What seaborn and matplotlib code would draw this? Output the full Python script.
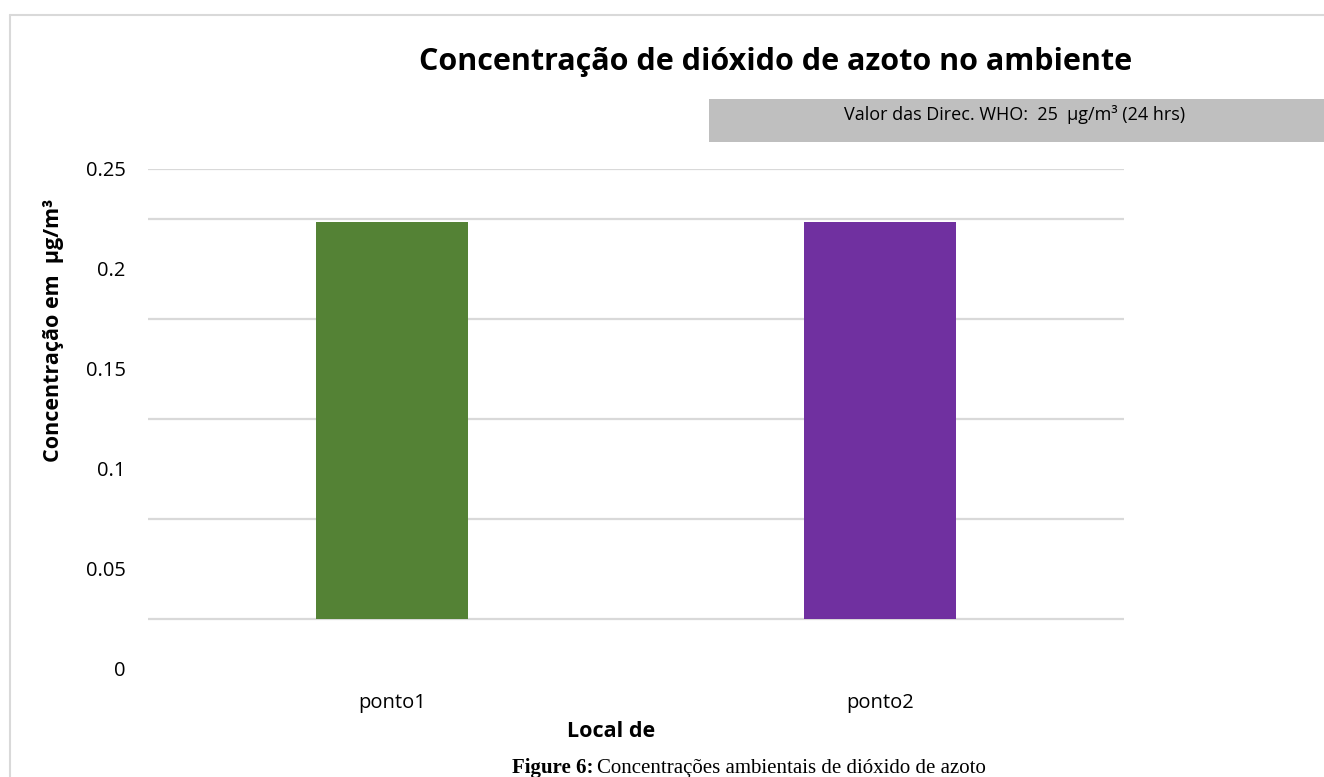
import pandas as pd
import seaborn as sns
import matplotlib.pyplot as plt
from matplotlib.patches import Rectangle
from matplotlib.lines import Line2D

# -------------------------
# Data
# -------------------------
locations = ["ponto1", "ponto2"]
bar_colors = ["#548235", "#7030a0"]
bar_heights = [0.1985, 0.1985]
bar_base = 0.025
y_ticks = [0, 0.05, 0.1, 0.15, 0.2, 0.25]
y_tick_labels = ["0", "0.05", "0.1", "0.15", "0.2", "0.25"]
grid_levels = [0.025, 0.075, 0.125, 0.175, 0.225, 0.25]

df = pd.DataFrame({"local": locations, "conc": bar_heights})

sns.set_theme(style="white")
plt.rcParams["font.family"] = ["Open Sans", "DejaVu Sans"]
plt.rcParams["text.color"] = "black"
plt.rcParams["axes.labelcolor"] = "black"

W, H = 1324, 777
fig = plt.figure(figsize=(W / 100, H / 100), dpi=100)
ax = fig.add_axes([148 / W, (H - 669) / H, (1124 - 148) / W, 500 / H])

sns.barplot(data=df, x="local", y="conc", hue="local", palette=bar_colors,
            legend=False, width=0.31, bottom=bar_base, saturation=1,
            linewidth=0, edgecolor="none", ax=ax, zorder=1)

ax.set_ylim(0, 0.25)
ax.set_xlim(-0.5, 1.5)
ax.set_yticks(y_ticks)
ax.set_yticklabels(y_tick_labels)
ax.grid(False)
for g in grid_levels:
    ax.axhline(g, color="#d9d9d9", lw=1.6, zorder=2 if g == 0.225 else 0)
ax.tick_params(axis="both", which="both", length=0, labelsize=14.5, colors="black")
ax.tick_params(axis="y", pad=16)
ax.tick_params(axis="x", pad=17)
for s in ax.spines.values():
    s.set_visible(False)

ax.set_xlabel("Local de", fontsize=15.5, fontweight="bold")
ax.xaxis.set_label_coords((611 - 148) / 976, -(721 - 669) / 500)
ax.set_ylabel("Concentração em  µg/m³", fontsize=15.5, fontweight="bold")
ax.yaxis.set_label_coords((64 - 148) / 976, (669 - 330) / 500)

# title and guideline box
fig.text(776 / W, 1 - 62 / H, "Concentração de dióxido de azoto no ambiente",
         ha="center", va="center", fontsize=22, fontweight="bold")
fig.add_artist(Rectangle((709 / W, 1 - 142 / H), (W - 709) / W, 43 / H,
                         transform=fig.transFigure, color="#bfbfbf", lw=0))
fig.text(1015 / W, 1 - 115 / H, "Valor das Direc. WHO:  25  µg/m³ (24 hrs)",
         ha="center", va="center", fontsize=13)

# outer chart border
fig.add_artist(Line2D([10 / W, 10 / W], [0, 1 - 15 / H], transform=fig.transFigure,
                      color="#d9d9d9", lw=1.5))
fig.add_artist(Line2D([10 / W, 1], [1 - 15 / H, 1 - 15 / H], transform=fig.transFigure,
                      color="#d9d9d9", lw=1.5))

# caption under the chart
fig.text(512 / W, 1 - 768 / H, "Figure 6:", ha="left", va="center",
         fontsize=15, fontweight="bold", family="Liberation Serif")
fig.text(597 / W, 1 - 768 / H, "Concentrações ambientais de dióxido de azoto",
         ha="left", va="center", fontsize=15, family="Liberation Serif")

fig.savefig("out.png", dpi=100)
